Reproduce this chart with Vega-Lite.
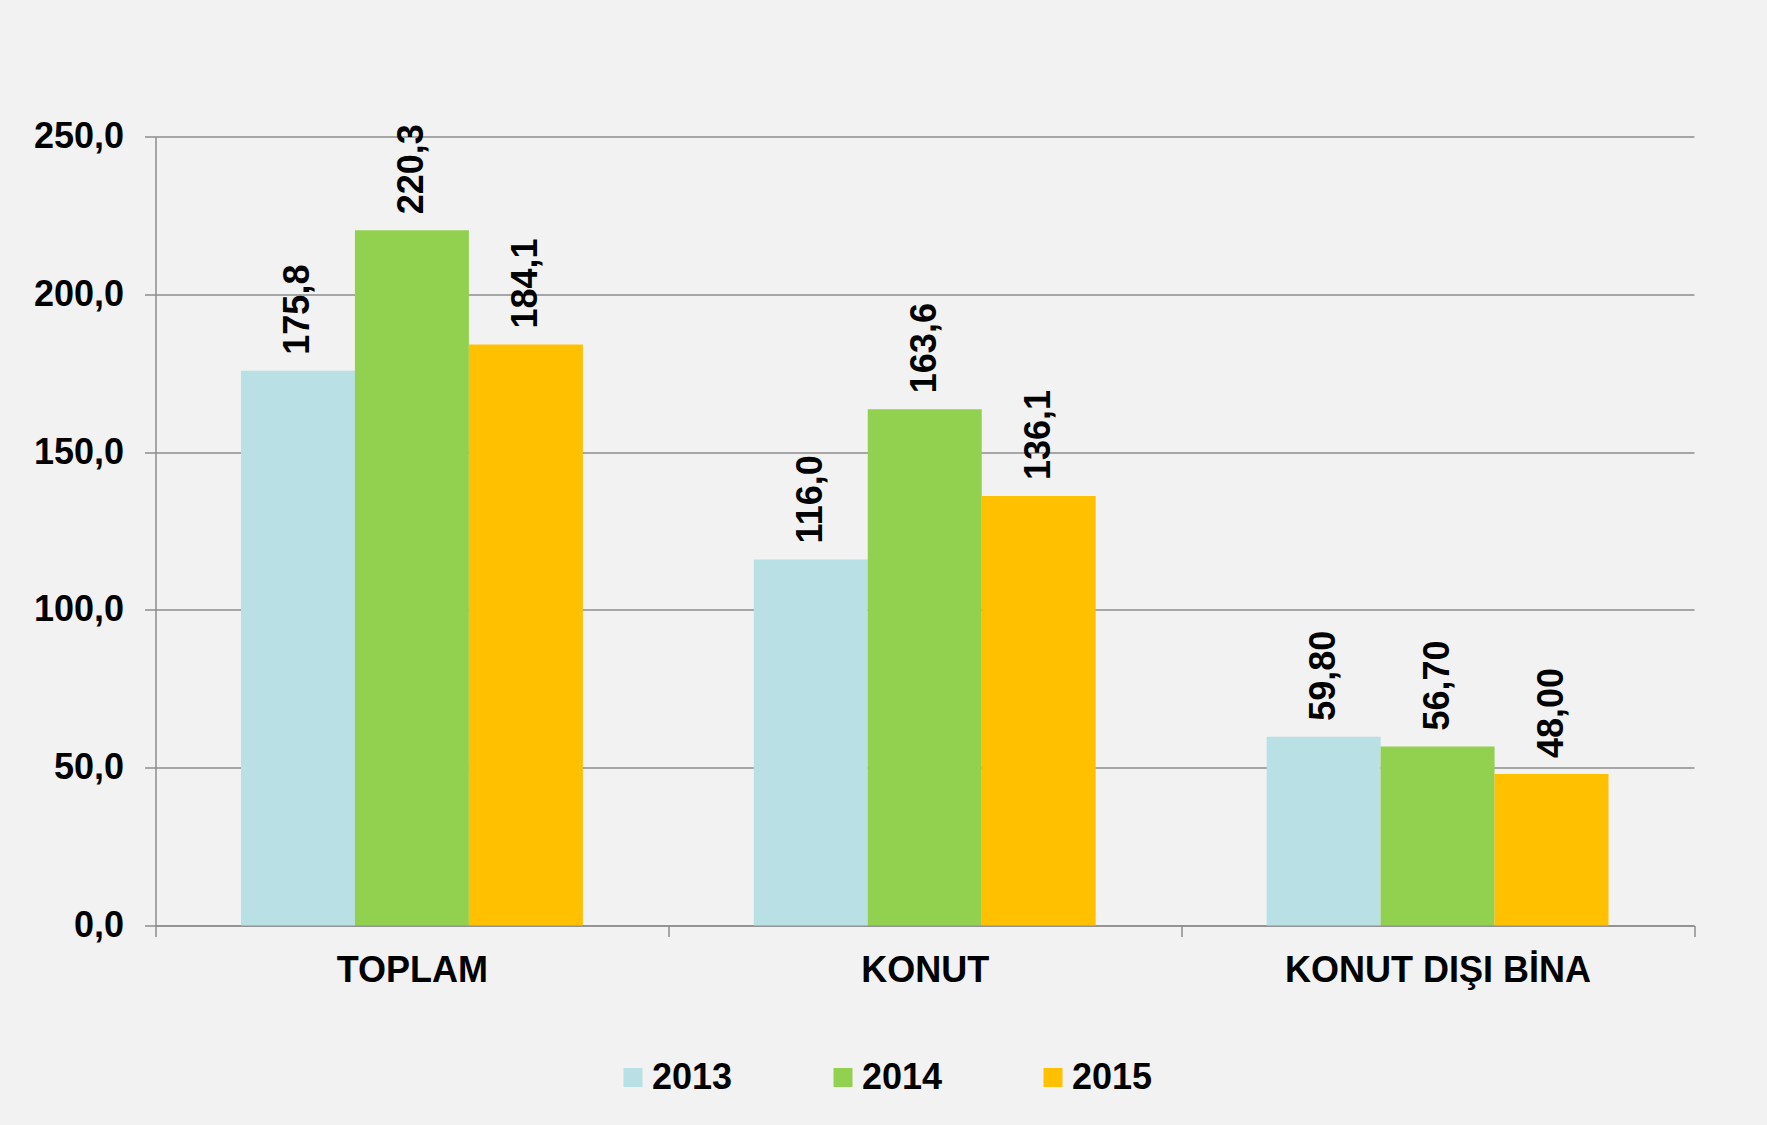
{
  "$schema": "https://vega.github.io/schema/vega-lite/v6.json",
  "width": 1538.5,
  "height": 789,
  "autosize": {"type": "none"},
  "padding": {"left": 155.5, "top": 136.5, "right": 73, "bottom": 199.5},
  "background": "#F2F2F2",
  "config": {
    "view": {"stroke": null},
    "font": "Liberation Sans",
    "locale": {"number": {"decimal": ",", "thousands": ".", "grouping": [3], "currency": ["", " TL"]}}
  },
  "data": {
    "values": [
      {"kategori": "TOPLAM", "yil": "2013", "deger": 175.8, "etiket": "175,8"},
      {"kategori": "TOPLAM", "yil": "2014", "deger": 220.3, "etiket": "220,3"},
      {"kategori": "TOPLAM", "yil": "2015", "deger": 184.1, "etiket": "184,1"},
      {"kategori": "KONUT", "yil": "2013", "deger": 116.0, "etiket": "116,0"},
      {"kategori": "KONUT", "yil": "2014", "deger": 163.6, "etiket": "163,6"},
      {"kategori": "KONUT", "yil": "2015", "deger": 136.1, "etiket": "136,1"},
      {"kategori": "KONUT DIŞI BİNA", "yil": "2013", "deger": 59.8, "etiket": "59,80"},
      {"kategori": "KONUT DIŞI BİNA", "yil": "2014", "deger": 56.7, "etiket": "56,70"},
      {"kategori": "KONUT DIŞI BİNA", "yil": "2015", "deger": 48.0, "etiket": "48,00"}
    ]
  },
  "encoding": {
    "x": {
      "field": "kategori",
      "type": "nominal",
      "sort": null,
      "scale": {"paddingInner": 0, "paddingOuter": 0},
      "axis": {
        "title": null,
        "labelAngle": 0,
        "labelLimit": 0,
        "labelFont": "Liberation Sans",
        "labelFontSize": 36,
        "labelFontWeight": "bold",
        "labelColor": "#000000",
        "labelPadding": 17,
        "tickBand": "extent",
        "tickSize": 11,
        "tickColor": "#8C8C8C",
        "tickWidth": 1.5,
        "domainColor": "#8C8C8C",
        "domainWidth": 1.5,
        "grid": false
      }
    },
    "xOffset": {
      "field": "yil",
      "type": "nominal",
      "scale": {"paddingInner": 0, "paddingOuter": 0.75}
    },
    "y": {
      "field": "deger",
      "type": "quantitative",
      "scale": {"domain": [0, 250], "nice": false, "zero": true},
      "axis": {
        "title": null,
        "values": [0, 50, 100, 150, 200, 250],
        "format": ".1f",
        "labelFont": "Liberation Sans",
        "labelFontSize": 36,
        "labelFontWeight": "bold",
        "labelColor": "#000000",
        "labelPadding": 21,
        "tickSize": 11,
        "tickColor": "#8C8C8C",
        "tickWidth": 1.5,
        "domainColor": "#8C8C8C",
        "domainWidth": 1.5,
        "grid": true,
        "gridColor": "#8C8C8C",
        "gridWidth": 1.5
      }
    }
  },
  "layer": [
    {
      "mark": {"type": "bar"},
      "encoding": {
        "color": {
          "field": "yil",
          "type": "nominal",
          "scale": {"domain": ["2013", "2014", "2015"], "range": ["#B9E0E4", "#92D050", "#FFC000"]},
          "legend": {
            "title": null,
            "orient": "none",
            "direction": "horizontal",
            "legendX": 459.5,
            "legendY": 923,
            "padding": 0,
            "symbolType": "square",
            "symbolSize": 361,
            "symbolStrokeWidth": 0,
            "labelFont": "Liberation Sans",
            "labelFontSize": 36,
            "labelFontWeight": "bold",
            "labelColor": "#000000",
            "labelOffset": 1,
            "columnPadding": 92
          }
        }
      }
    },
    {
      "mark": {
        "type": "text",
        "angle": -90,
        "align": "left",
        "baseline": "middle",
        "dx": 16,
        "font": "Liberation Sans",
        "fontSize": 36,
        "fontWeight": "bold",
        "color": "#000000"
      },
      "encoding": {
        "text": {"field": "etiket", "type": "nominal"}
      }
    }
  ]
}
